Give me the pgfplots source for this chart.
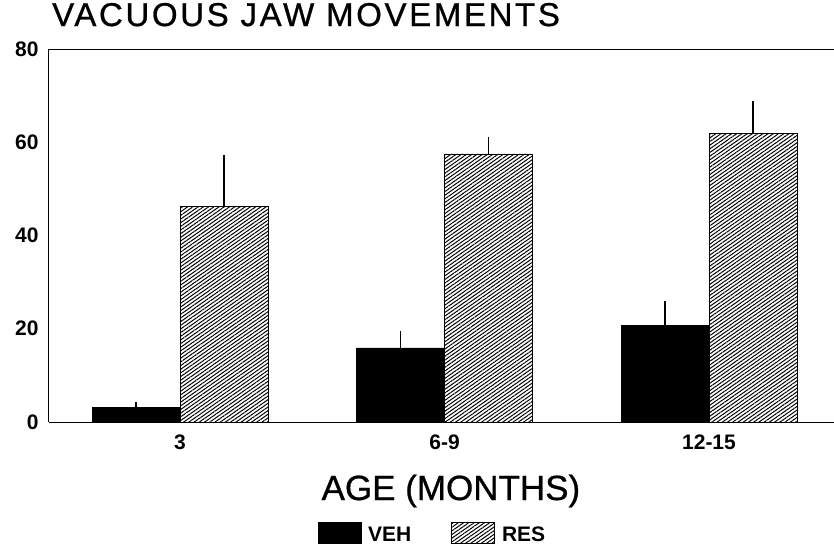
\documentclass[border=0pt]{standalone}
\usepackage{fontspec}
\setmainfont{Liberation Sans}
\newfontfamily\titlefont[LetterSpace=8,FakeBold=0.8]{Liberation Sans}
\newfontfamily\labelfont[FakeBold=0.8]{Liberation Sans}
\usepackage{pgfplots}
\pgfplotsset{compat=1.18}
\usetikzlibrary{patterns.meta}
\begin{document}
\begin{tikzpicture}
\path[use as bounding box] (-49pt,-125pt) rectangle (785pt,422pt);
\begin{axis}[
  scale only axis,
  width=785pt, height=373pt,
  xmin=-0.4953, xmax=2.4726,
  ymin=0, ymax=80,
  ybar=0pt, bar width=0.3327,
  axis x line*=box, axis y line*=left,
  axis line style={line width=1pt, -},
  major tick length=0pt,
  xtick={0,1,2}, xticklabels={3,6-9,12-15},
  ytick={0,20,40,60,80},
  /pgf/number format/assume math mode=true,
  tick label style={font=\bfseries\fontsize{21}{21}\selectfont},
  yticklabel style={xshift=-7pt},
  xticklabel style={yshift=-9pt},
  xlabel={AGE (MONTHS)},
  x label style={at={(axis description cs:0.512,0)}, anchor=base, yshift=-78pt, inner sep=0pt, font=\labelfont\fontsize{35}{35}\selectfont},
  title={VACUOUS JAW MOVEMENTS},
  title style={at={(axis description cs:0,1)}, anchor=base west, xshift=3pt, yshift=17pt, inner sep=0pt, font=\titlefont\fontsize{33}{33}\selectfont},
  legend style={at={(axis description cs:0.4885,-0.299)}, anchor=center, draw=none, fill=none,
    font=\bfseries\fontsize{21}{21}\selectfont,
    /tikz/every odd column/.append style={column sep=5pt},
    /tikz/every even column/.append style={column sep=38pt}},
  legend columns=2,
  error bars/y dir=plus, error bars/y explicit,
  error bars/error mark=none,
  error bars/error bar style={line width=1.8pt, black},
]
\addplot[fill=black, draw=black, legend image code/.code={\draw[fill=black,draw=black] (0pt,-9pt) rectangle (43pt,12pt);}]
  coordinates {(0,3.2) +- (0,1.1) (1,15.9) +- (0,3.6) (2,20.8) +- (0,5.2)};
\addlegendentry{VEH}
\addplot[draw=black, line width=0.8pt, pattern={Lines[angle=35,distance=3pt,line width=1pt]},
  legend image code/.code={\draw[draw=black, pattern={Lines[angle=35,distance=3pt,line width=1pt]}] (0pt,-9pt) rectangle (43pt,12pt);}]
  coordinates {(0,46.3) +- (0,11.0) (1,57.5) +- (0,3.6) (2,61.9) +- (0,7.0)};
\addlegendentry{RES}
\end{axis}
\end{tikzpicture}
\end{document}
